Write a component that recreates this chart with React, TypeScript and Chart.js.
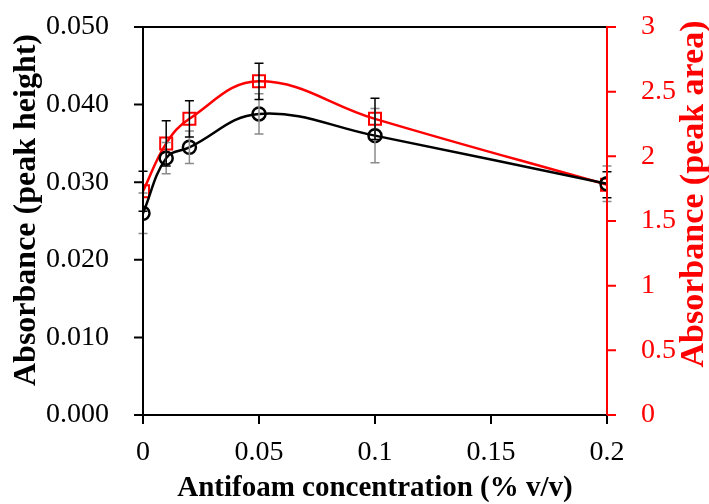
import React, { useEffect, useRef } from "react";
import { Chart, registerables } from "chart.js";

Chart.register(...registerables);

const concentration = [0, 0.01, 0.02, 0.05, 0.1, 0.2];
const peakHeight = [0.026, 0.0331, 0.0345, 0.0388, 0.036, 0.0298];
const peakHeightErr = [0.0026, 0.002, 0.0021, 0.0026, 0.0035, 0.0023];
const peakArea = [1.73, 2.1, 2.29, 2.58, 2.29, 1.78];
const peakAreaErr = [0.155, 0.175, 0.14, 0.14, 0.16, 0.1];

const xTicks = [0, 0.05, 0.1, 0.15, 0.2];
const leftTicks = [0, 0.01, 0.02, 0.03, 0.04, 0.05];
const rightTicks = [0, 0.5, 1, 1.5, 2, 2.5, 3];

const xTitle = "Antifoam concentration (% v/v)";
const leftTitle = "Absorbance (peak height)";
const rightTitle = "Absorbance (peak area)";

const RED = "#ff0000";
const FONT = "'Liberation Serif', 'Times New Roman', serif";

const errorBarPlugin = {
  id: "errorBars",
  afterDatasetsDraw(chart: any) {
    const ctx = chart.ctx;
    const xs = chart.scales.x;
    const specs = [
      { scale: chart.scales.y, vals: peakHeight, errs: peakHeightErr, color: "#8a8a8a" },
      { scale: chart.scales.y1, vals: peakArea, errs: peakAreaErr, color: "#000000" },
    ];
    ctx.save();
    ctx.lineWidth = 1.5;
    for (const s of specs) {
      ctx.strokeStyle = s.color;
      concentration.forEach((c, i) => {
        const px = xs.getPixelForValue(c);
        const top = s.scale.getPixelForValue(s.vals[i] + s.errs[i]);
        const bot = s.scale.getPixelForValue(s.vals[i] - s.errs[i]);
        ctx.beginPath();
        ctx.moveTo(px, top);
        ctx.lineTo(px, bot);
        ctx.moveTo(px - 4.5, top);
        ctx.lineTo(px + 4.5, top);
        ctx.moveTo(px - 4.5, bot);
        ctx.lineTo(px + 4.5, bot);
        ctx.stroke();
      });
    }
    ctx.restore();
  },
};

const framePlugin = {
  id: "frame",
  afterDraw(chart: any) {
    const ctx = chart.ctx;
    const { left, right, top, bottom } = chart.chartArea;
    const xs = chart.scales.x;
    const y = chart.scales.y;
    const y1 = chart.scales.y1;
    ctx.save();
    ctx.lineWidth = 2;
    ctx.strokeStyle = "#000";
    ctx.beginPath();
    ctx.moveTo(left, top - 1);
    ctx.lineTo(left, bottom + 1);
    ctx.moveTo(left - 9, top);
    ctx.lineTo(right, top);
    ctx.moveTo(left - 9, bottom);
    ctx.lineTo(right, bottom);
    leftTicks.forEach((v) => {
      const py = y.getPixelForValue(v);
      ctx.moveTo(left - 9, py);
      ctx.lineTo(left, py);
    });
    xTicks.forEach((v) => {
      const px = xs.getPixelForValue(v);
      ctx.moveTo(px, bottom);
      ctx.lineTo(px, bottom + 9);
    });
    ctx.stroke();
    ctx.strokeStyle = RED;
    ctx.beginPath();
    ctx.moveTo(right, top - 1);
    ctx.lineTo(right, bottom);
    rightTicks.forEach((v) => {
      const py = y1.getPixelForValue(v);
      ctx.moveTo(right, py);
      ctx.lineTo(right + 9, py);
    });
    ctx.stroke();
    ctx.textAlign = "center";
    ctx.textBaseline = "middle";
    ctx.fillStyle = "#000";
    ctx.font = `bold 29px ${FONT}`;
    ctx.fillText(xTitle, (left + right) / 2, 489);
    ctx.font = `bold 32px ${FONT}`;
    ctx.save();
    ctx.translate(27, 210);
    ctx.rotate(-Math.PI / 2);
    ctx.fillText(leftTitle, 0, 0);
    ctx.restore();
    ctx.font = `bold 34px ${FONT}`;
    ctx.save();
    ctx.fillStyle = RED;
    ctx.translate(694, 194);
    ctx.rotate(-Math.PI / 2);
    ctx.fillText(rightTitle, 0, 0);
    ctx.restore();
    ctx.restore();
  },
};

const noVerticalPadding = (axis: any) => {
  axis.paddingTop = 0;
  axis.paddingBottom = 0;
};

export default function App() {
  const ref = useRef<HTMLCanvasElement | null>(null);
  useEffect(() => {
    if (!ref.current) return;
    const chart = new Chart(ref.current, {
      type: "line",
      data: {
        datasets: [
          {
            label: "Peak height",
            data: concentration.map((c, i) => ({ x: c, y: peakHeight[i] })),
            yAxisID: "y",
            borderColor: "#000",
            borderWidth: 2.5,
            pointStyle: "circle",
            pointRadius: 6.5,
            pointBorderWidth: 2.5,
            pointBorderColor: "#000",
            pointBackgroundColor: "rgba(0,0,0,0)",
            tension: 0.4,
            fill: false,
          },
          {
            label: "Peak area",
            data: concentration.map((c, i) => ({ x: c, y: peakArea[i] })),
            yAxisID: "y1",
            borderColor: RED,
            borderWidth: 2.5,
            pointStyle: "rect",
            pointRadius: 8.5,
            pointBorderWidth: 2,
            pointBorderColor: RED,
            pointBackgroundColor: "rgba(0,0,0,0)",
            tension: 0.4,
            fill: false,
          },
        ],
      },
      options: {
        responsive: false,
        animation: false,
        layout: { padding: { top: 27, left: 0, right: 0, bottom: 0 } },
        plugins: { legend: { display: false }, tooltip: { enabled: false } },
        scales: {
          x: {
            type: "linear",
            min: 0,
            max: 0.2,
            afterBuildTicks: (axis: any) => {
              axis.ticks = xTicks.map((v) => ({ value: v }));
            },
            afterFit: (axis: any) => {
              axis.height = 89;
              axis.paddingLeft = 0;
              axis.paddingRight = 0;
            },
            grid: { display: false },
            border: { display: false },
            ticks: {
              color: "#000",
              font: { family: FONT, size: 28 },
              padding: 13,
              maxRotation: 0,
              callback: (v: any) => String(Number(v)),
            },
          },
          y: {
            type: "linear",
            position: "left",
            min: 0,
            max: 0.05,
            afterBuildTicks: (axis: any) => {
              axis.ticks = leftTicks.map((v) => ({ value: v }));
            },
            afterFit: (axis: any) => {
              axis.width = 143;
              noVerticalPadding(axis);
            },
            grid: { display: false },
            border: { display: false },
            ticks: {
              color: "#000",
              font: { family: FONT, size: 28 },
              padding: 26,
              callback: (v: any) => Number(v).toFixed(3),
            },
          },
          y1: {
            type: "linear",
            position: "right",
            min: 0,
            max: 3,
            afterBuildTicks: (axis: any) => {
              axis.ticks = rightTicks.map((v) => ({ value: v }));
            },
            afterFit: (axis: any) => {
              axis.width = 102;
              noVerticalPadding(axis);
            },
            grid: { display: false },
            border: { display: false },
            ticks: {
              color: RED,
              font: { family: FONT, size: 28 },
              padding: 26,
              callback: (v: any) => String(Number(v)),
            },
          },
        },
      },
      plugins: [errorBarPlugin, framePlugin],
    } as any);
    return () => chart.destroy();
  }, []);
  return (
    <div style={{ position: "absolute", left: 0, top: 0, width: 709, height: 504, background: "#fff" }}>
      <canvas ref={ref} width={709} height={504} style={{ width: 709, height: 504, display: "block" }} />
    </div>
  );
}
